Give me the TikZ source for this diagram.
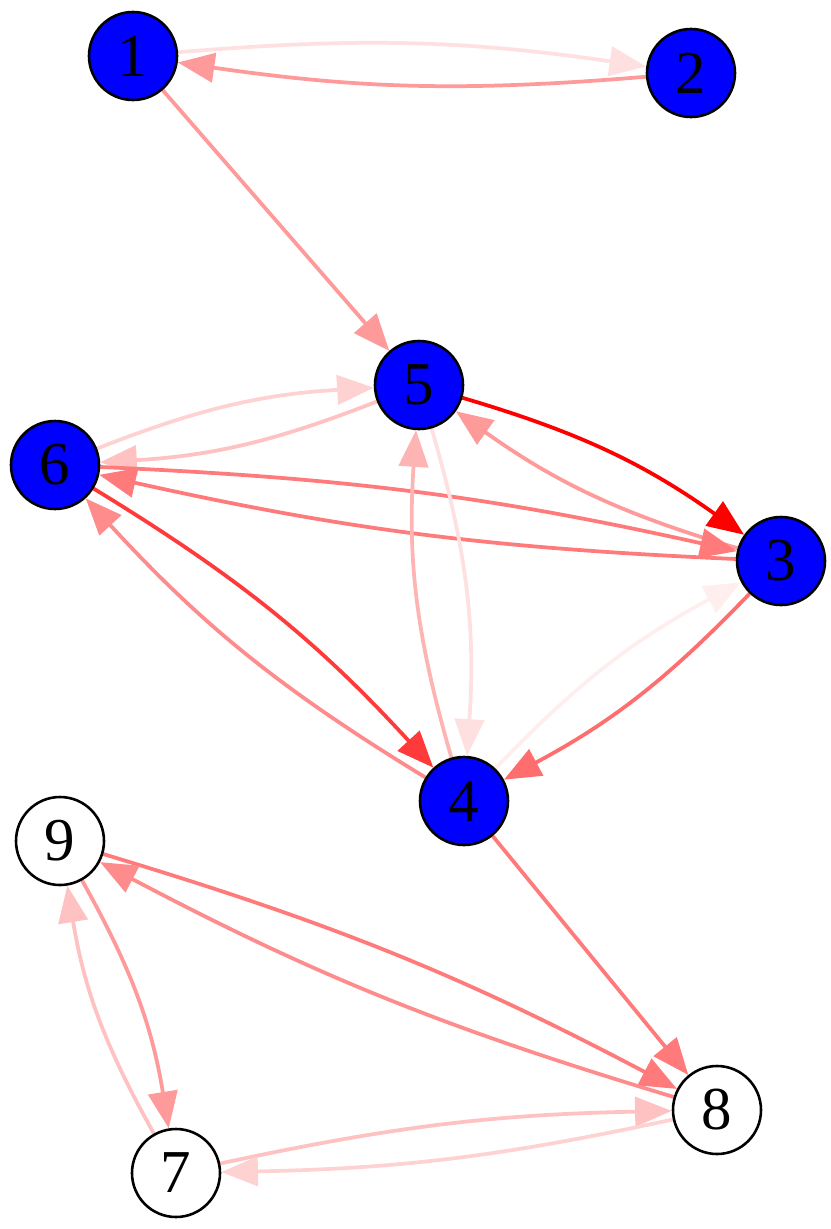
\documentclass[tikz,border=0pt]{standalone}
\usepackage{fontspec}
\setmainfont{Liberation Serif}
\usetikzlibrary{arrows.meta,backgrounds}
\definecolor{vblue}{HTML}{0000FF}
\definecolor{wA}{HTML}{FF0000}
\definecolor{wB}{HTML}{FF3A3A}
\definecolor{wC}{HTML}{FF6E6E}
\definecolor{wD}{HTML}{FF7A7A}
\definecolor{wE}{HTML}{FF8C8C}
\definecolor{wF}{HTML}{FF9A9A}
\definecolor{wG}{HTML}{FFB4B4}
\definecolor{wH}{HTML}{FFC2C2}
\definecolor{wI}{HTML}{FFD2D2}
\definecolor{wJ}{HTML}{FFE0E0}
\definecolor{wK}{HTML}{FFEEEE}

\begin{document}
\begin{tikzpicture}[x=0.03cm,y=-0.03cm,
    vtx/.style={circle,draw=black,line width=2.2pt,minimum size=2.64cm,
      inner sep=0pt,font=\fontsize{52}{52}\selectfont},
    on/.style={vtx,fill=vblue},
    off/.style={vtx,fill=white},
    link/.style={line width=3.2pt,-{Triangle[length=1.1cm,width=0.88cm]}}]
  \useasboundingbox (0,0) rectangle (830,1229);

  % vertices
  \node[on] (v1) at (133,56) {1};
  \node[on] (v2) at (691,73) {2};
  \node[on] (v5) at (419,385) {5};
  \node[on] (v6) at (55,465) {6};
  \node[on] (v3) at (781,561) {3};
  \node[on] (v4) at (464,801) {4};
  \node[off] (v9) at (60,841) {9};
  \node[off] (v8) at (717,1110) {8};
  \node[off] (v7) at (176,1173) {7};

  % edges (mutual pairs bend to their left)
  \begin{scope}[on background layer]
    \draw[link,wJ] (v1) to[bend left=6.5] (v2);
    \draw[link,wF] (v2) to[bend left=6.5] (v1);
    \draw[link,wF] (v1) -- (v5);
    \draw[link,wI] (v6) to[bend left=9] (v5);
    \draw[link,wH] (v5) to[bend left=9] (v6);
    \draw[link,wA] (v5) to[bend left=9.5] (v3);
    \draw[link,wF] (v3) to[bend left=9.5] (v5);
    \draw[link,wD] (v6) to[bend left=5] (v3);
    \draw[link,wD] (v3) to[bend left=5] (v6);
    \draw[link,wB] (v6) to[bend left=8] (v4);
    \draw[link,wE] (v4) to[bend left=8] (v6);
    \draw[link,wG] (v4) to[bend left=10] (v5);
    \draw[link,wJ] (v5) to[bend left=10] (v4);
    \draw[link,wK] (v4) to[bend left=9] (v3);
    \draw[link,wC] (v3) to[bend left=9] (v4);
    \draw[link,wD] (v4) -- (v8);
    \draw[link,wD] (v9) to[bend left=5.5] (v8);
    \draw[link,wE] (v8) to[bend left=5.5] (v9);
    \draw[link,wF] (v9) to[bend left=10] (v7);
    \draw[link,wH] (v7) to[bend left=10] (v9);
    \draw[link,wH] (v7) to[bend left=5.5] (v8);
    \draw[link,wI] (v8) to[bend left=5.5] (v7);
  \end{scope}
\end{tikzpicture}
\end{document}
